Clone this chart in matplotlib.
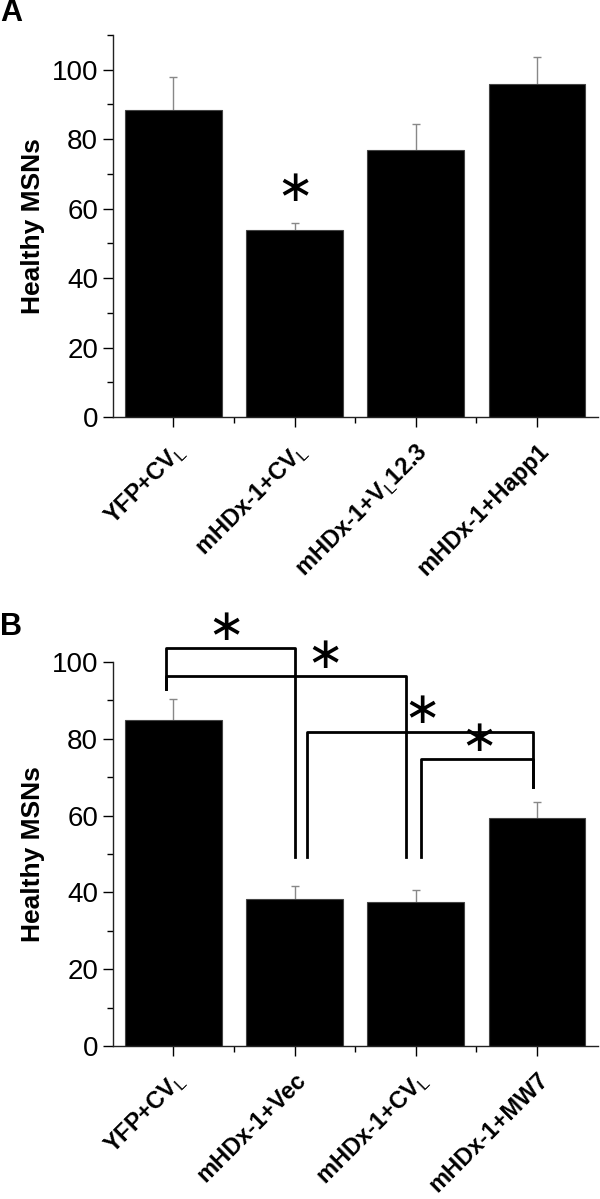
import matplotlib
matplotlib.use("Agg")
import matplotlib.pyplot as plt
from matplotlib.ticker import MultipleLocator

plt.rcParams['font.family'] = ['Liberation Sans', 'DejaVu Sans']
plt.rcParams['mathtext.fontset'] = 'custom'
plt.rcParams['mathtext.rm'] = 'Liberation Sans'

# ---- panel A data ----
labels_a = ['YFP+CV$_\\mathrm{L}$', 'mHDx-1+CV$_\\mathrm{L}$',
            'mHDx-1+V$_\\mathrm{L}$12.3', 'mHDx-1+Happ1']
vals_a = [88.4, 53.9, 77.0, 95.8]
err_a = [9.5, 1.9, 7.4, 7.9]
star_a = [(1.0, 65.8)]

# ---- panel B data ----
labels_b = ['YFP+CV$_\\mathrm{L}$', 'mHDx-1+Vec',
            'mHDx-1+CV$_\\mathrm{L}$', 'mHDx-1+MW7']
vals_b = [84.8, 38.2, 37.4, 59.3]
err_b = [5.5, 3.5, 3.2, 4.1]
# brackets: x left, x right, top y, left leg end, right leg end
brackets_b = [(-0.06, 1.00, 103.7, 92.9, 49.3),
              (-0.06, 1.92, 96.4, 92.9, 49.3),
              (1.10, 2.97, 81.8, 49.3, 67.5),
              (2.04, 2.97, 74.6, 49.3, 67.5)]
stars_b = [(0.43, 109.0), (1.25, 101.7), (2.05, 87.4), (2.52, 80.0)]


def draw_panel(ax, labels, vals, errs, ytop):
    x = list(range(len(vals)))
    ax.errorbar(x, vals, yerr=errs, fmt='none', ecolor='#888888',
                elinewidth=1.0, capsize=3, capthick=1.0, zorder=1)
    ax.bar(x, vals, width=0.8, color='black', edgecolor='#444444',
           linewidth=0.8, zorder=2)
    ax.set_xlim(-0.5, 3.5)
    ax.set_ylim(0, ytop)
    ax.spines['top'].set_visible(False)
    ax.spines['right'].set_visible(False)
    for s in ['left', 'bottom']:
        ax.spines[s].set_linewidth(1.0)
        ax.spines[s].set_color('#222222')
    ax.yaxis.set_major_locator(MultipleLocator(20))
    ax.yaxis.set_minor_locator(MultipleLocator(10))
    ax.set_xticks(x)
    ax.set_xticks([0.5, 1.5, 2.5], minor=True)
    ax.set_xticklabels(labels, rotation=45, ha='right',
                       rotation_mode='anchor', fontsize=17, fontweight='bold')
    ax.tick_params(axis='y', which='major', labelsize=20, length=7, width=1)
    ax.tick_params(axis='y', which='minor', length=4, width=1)
    ax.tick_params(axis='x', which='major', length=7, width=1, pad=9)
    ax.tick_params(axis='x', which='minor', length=4, width=1)
    ax.set_ylabel('Healthy MSNs', fontsize=19, fontweight='bold', labelpad=5)


def star(ax, x, y):
    ax.text(x, y, '\u2217', fontsize=32, family='DejaVu Sans',
            ha='center', va='center', clip_on=False)


fig = plt.figure(figsize=(6, 11.99), dpi=100)

ax_a = fig.add_axes([0.188, 0.652, 0.808, 0.319])
draw_panel(ax_a, labels_a, vals_a, err_a, 110)
for sx, sy in star_a:
    star(ax_a, sx, sy)

ax_b = fig.add_axes([0.188, 0.1276, 0.808, 0.3204])
draw_panel(ax_b, labels_b, vals_b, err_b, 100)
for x1, x2, top, e1, e2 in brackets_b:
    ax_b.plot([x1, x1, x2, x2], [e1, top, top, e2], color='black',
              linewidth=2, clip_on=False, zorder=3)
for sx, sy in stars_b:
    star(ax_b, sx, sy)

fig.text(0.0, 0.989, 'A', fontsize=22, fontweight='bold', va='center')
fig.text(0.0, 0.477, 'B', fontsize=22, fontweight='bold', va='center')

fig.savefig('out.png', dpi=100)
